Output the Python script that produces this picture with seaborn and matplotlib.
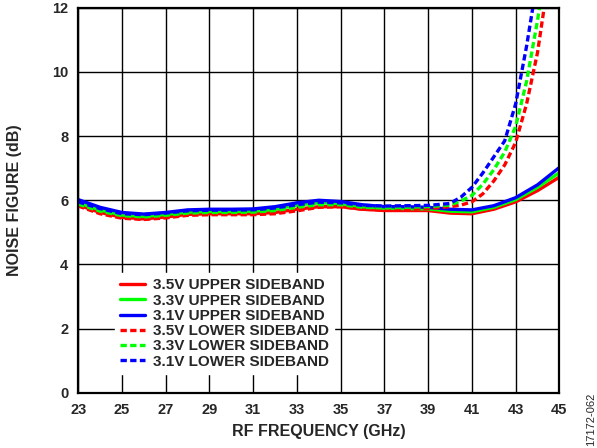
import numpy as np
import pandas as pd
import matplotlib
matplotlib.use("Agg")
import matplotlib.pyplot as plt
import seaborn as sns

# ---------------- data ----------------
freq_upper = [23, 24, 25, 26, 27, 28, 29, 30, 31, 32, 33, 34, 35, 36, 37,
              38, 39, 40, 41, 42, 43, 44, 45]
nf_35_upper = [5.85, 5.62, 5.47, 5.42, 5.48, 5.56, 5.58, 5.58, 5.58, 5.62, 5.72,
               5.80, 5.80, 5.72, 5.68, 5.68, 5.68, 5.60, 5.58, 5.72, 5.95, 6.30, 6.72]
nf_33_upper = [5.92, 5.70, 5.54, 5.50, 5.56, 5.63, 5.65, 5.65, 5.66, 5.72, 5.85,
               5.92, 5.90, 5.80, 5.75, 5.74, 5.73, 5.66, 5.64, 5.78, 6.02, 6.40, 6.86]
nf_31_upper = [6.02, 5.78, 5.62, 5.57, 5.62, 5.70, 5.72, 5.72, 5.73, 5.80, 5.92,
               6.00, 5.96, 5.86, 5.80, 5.80, 5.78, 5.72, 5.70, 5.83, 6.08, 6.48, 7.02]

freq_lower = [23, 24, 25, 26, 27, 28, 29, 30, 31, 32, 33, 34, 35, 36, 37, 38,
              39, 40, 40.5, 41, 41.5, 42, 42.5, 43, 43.5, 44, 44.5]
nf_35_lower = [5.82, 5.58, 5.44, 5.40, 5.45, 5.53, 5.55, 5.55, 5.55, 5.58, 5.67,
               5.78, 5.80, 5.72, 5.70, 5.72, 5.74, 5.80, 5.85, 5.95, 6.20, 6.60,
               7.10, 7.80, 9.00, 10.6, 12.9]
nf_33_lower = [5.88, 5.66, 5.52, 5.48, 5.53, 5.60, 5.62, 5.62, 5.63, 5.68, 5.78,
               5.86, 5.86, 5.78, 5.76, 5.78, 5.80, 5.85, 5.98, 6.15, 6.50, 6.95,
               7.50, 8.30, 9.70, 11.6, 13.8]
nf_31_lower = [5.95, 5.74, 5.58, 5.55, 5.60, 5.67, 5.69, 5.69, 5.70, 5.76, 5.86,
               5.94, 5.92, 5.84, 5.82, 5.83, 5.84, 5.90, 6.10, 6.40, 6.85, 7.35,
               7.85, 9.00, 10.8, 12.9, 15.0]

labels = ["3.5V UPPER SIDEBAND", "3.3V UPPER SIDEBAND", "3.1V UPPER SIDEBAND",
          "3.5V LOWER SIDEBAND", "3.3V LOWER SIDEBAND", "3.1V LOWER SIDEBAND"]

# ---------------- style ----------------
sns.set_style("white")
plt.rcParams["font.family"] = ["Liberation Sans", "DejaVu Sans"]
plt.rcParams["font.weight"] = "bold"

colors = ["#FF0000", "#00FF00", "#0000FF"]

fig = plt.figure(figsize=(5.97, 4.48), dpi=100)
ax = fig.add_axes([0.131, 0.123, 0.806, 0.860])

uppers = [nf_35_upper, nf_33_upper, nf_31_upper]
lowers = [nf_35_lower, nf_33_lower, nf_31_lower]

for vals, c, lab in zip(uppers, colors, labels[:3]):
    sns.lineplot(x=freq_upper, y=vals, ax=ax, color=c, linewidth=2.4,
                 label=lab)
for vals, c, lab in zip(lowers, colors, labels[3:]):
    sns.lineplot(x=freq_lower, y=vals, ax=ax, color=c, linewidth=2.4,
                 linestyle=(0, (1.9, 1.0)), label=lab)

ax.set_xlim(23, 45)
ax.set_ylim(0, 12)
ax.set_xticks(np.arange(23, 46, 2))
ax.set_yticks(np.arange(0, 13, 2))
ax.grid(True, color="black", linewidth=1.0)
ax.set_axisbelow(True)
for s in ax.spines.values():
    s.set_color("black")
    s.set_linewidth(1.6)

ax.tick_params(labelsize=10.5, length=0, pad=7)
for t in ax.get_xticklabels() + ax.get_yticklabels():
    t.set_fontweight("bold")

ax.set_xlabel("RF FREQUENCY (GHz)", fontsize=11.5, fontweight="bold", labelpad=5)
ax.set_ylabel("NOISE FIGURE (dB)", fontsize=11.5, fontweight="bold", labelpad=22)

leg = ax.legend(loc="center left", bbox_to_anchor=(0.06, 0.18), frameon=True,
                fancybox=False, edgecolor="white", framealpha=1.0,
                handlelength=1.65, handletextpad=0.5, labelspacing=0.08,
                borderpad=0.35, prop={"size": 11, "weight": "bold"})

fig.text(0.99, 0.063, "17172-062", rotation=90, fontsize=8,
         fontweight="normal", ha="center", va="center")

plt.savefig("out.png", dpi=100)
